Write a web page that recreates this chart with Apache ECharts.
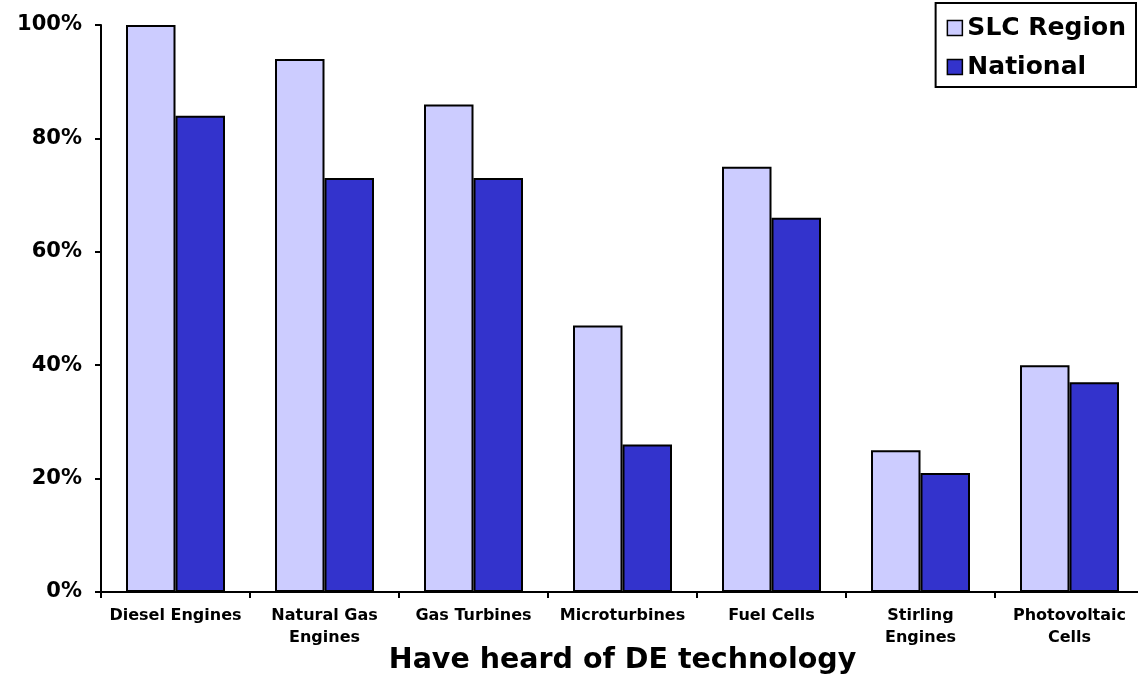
<!DOCTYPE html>
<html>
<head>
<meta charset="utf-8">
<script src="https://cdn.jsdelivr.net/npm/echarts@6/dist/echarts.min.js"></script>
<style>
  html, body { margin: 0; padding: 0; background: #fff; }
  #chart { width: 1138px; height: 679px; }
</style>
</head>
<body>
<div id="chart"></div>
<script>
// Awareness of distributed-energy technologies, regional vs. national
const categories = [
  'Diesel Engines',
  'Natural Gas\nEngines',
  'Gas Turbines',
  'Microturbines',
  'Fuel Cells',
  'Stirling\nEngines',
  'Photovoltaic\nCells'
];
const slcRegion = [100, 94, 86, 47, 75, 25, 40];
const national = [84, 73, 73, 26, 66, 21, 37];
const seriesNames = ['SLC Region', 'National'];
const axisTitle = 'Have heard of DE technology';

const FONT = '"DejaVu Sans", Verdana, sans-serif';

const chart = echarts.init(document.getElementById('chart'), null, { renderer: 'canvas' });

chart.setOption({
  animation: false,
  backgroundColor: '#ffffff',
  grid: {
    left: 101, right: -6, top: 25, bottom: 87,
    containLabel: false,
    outerBoundsMode: 'none'
  },
  legend: {
    orient: 'vertical',
    right: 2,
    top: 3,
    data: seriesNames,
    icon: 'rect',
    itemWidth: 15,
    itemHeight: 15,
    itemGap: 13,
    padding: [12, 10, 7, 11],
    borderColor: '#000',
    borderWidth: 2,
    backgroundColor: '#fff',
    textStyle: { fontFamily: FONT, fontWeight: 'bold', fontSize: 25, lineHeight: 26, color: '#000' },
    itemStyle: { borderColor: '#000', borderWidth: 1.5 }
  },
  xAxis: {
    type: 'category',
    data: categories,
    name: axisTitle,
    nameLocation: 'middle',
    nameGap: 54,
    nameMoveOverlap: false,
    nameTextStyle: { fontFamily: FONT, fontWeight: 'bold', fontSize: 28.5, color: '#000' },
    axisLine: { lineStyle: { color: '#000', width: 2 } },
    axisTick: { show: true, alignWithLabel: false, length: 6, lineStyle: { color: '#000', width: 2 } },
    axisLabel: {
      interval: 0,
      margin: 13,
      fontFamily: FONT,
      fontWeight: 'bold',
      fontSize: 16,
      lineHeight: 22,
      color: '#000'
    },
    splitLine: { show: false }
  },
  yAxis: {
    type: 'value',
    min: 0,
    max: 100,
    interval: 20,
    axisLine: { show: true, lineStyle: { color: '#000', width: 2 } },
    axisTick: { show: true, length: 6, lineStyle: { color: '#000', width: 2 } },
    axisLabel: {
      formatter: '{value}%',
      margin: 19,
      padding: [6, 0, 0, 0],
      fontFamily: FONT,
      fontWeight: 'bold',
      fontSize: 21,
      color: '#000'
    },
    splitLine: { show: false }
  },
  series: [
    {
      name: seriesNames[0],
      type: 'bar',
      data: slcRegion,
      barWidth: 49.5,
      barGap: '0%',
      itemStyle: { color: '#CCCCFF', borderColor: '#000', borderWidth: 2 }
    },
    {
      name: seriesNames[1],
      type: 'bar',
      data: national,
      barWidth: 49.5,
      barGap: '0%',
      itemStyle: { color: '#3333CC', borderColor: '#000', borderWidth: 2 }
    }
  ]
});
</script>
</body>
</html>
